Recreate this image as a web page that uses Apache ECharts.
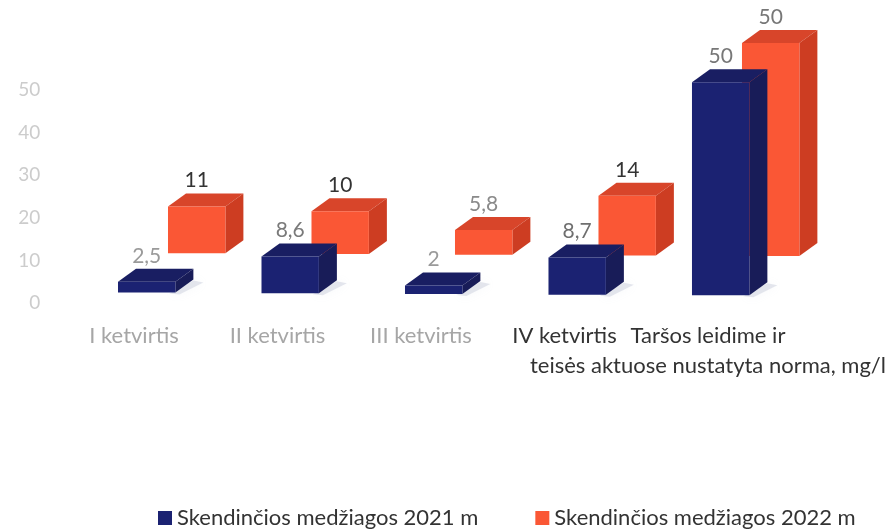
<!DOCTYPE html>
<html>
<head>
<meta charset="utf-8">
<style>
  html, body { margin: 0; padding: 0; background: #fff; }
  #chart { width: 889px; height: 531px; }
</style>
<script src="https://cdn.jsdelivr.net/npm/echarts@6/dist/echarts.min.js"></script>
</head>
<body>
<div id="chart"></div>
<script>
const categories = [
    "I ketvirtis",
    "II ketvirtis",
    "III ketvirtis",
    "IV ketvirtis",
    "Taršos leidime ir\nteisės aktuose nustatyta norma, mg/l"
];
const values2021 = [2.5, 8.6, 2, 8.7, 50];
const values2022 = [11, 10, 5.8, 14, 50];
const yTicks = [0, 10, 20, 30, 40, 50];
const name2021 = "Skendinčios medžiagos 2021 m";
const name2022 = "Skendinčios medžiagos 2022 m";

const fontName = "Lato, 'Open Sans', sans-serif";
const tilt = 0.005; // the scanned picture leans a little to the right

// one box: front face, top, side, floor shadow and the value on top
const box3d = (look) => (params, api) => {
    const value = api.value(1);
    const band = api.size([1, 0])[0];
    const width = band * 0.4;
    const base = api.coord([api.value(0), 0]);
    const top = api.coord([api.value(0), value]);
    const x0 = base[0] + band * look.shift;
    const x1 = x0 + width;
    const lean = (x0 - 118) * tilt;
    const y0 = base[1] + look.lift + lean;
    const y1 = top[1] + look.lift + lean;
    const dx = 18;
    const dy = -13;

    const children = [];
    if (look.shadow) {
        children.push({
            type: "polygon",
            shape: { points: [[x1 - 6, y0 + 1], [x1 + dx, y0 + dy + 1], [x1 + dx + 10, y0 + dy + 3], [x1 + 4, y0 + 2]] },
            style: { fill: look.shadow, shadowBlur: 10, shadowColor: look.shadow }
        });
    }
    children.push(
        {
            type: "polygon",
            shape: { points: [[x0, y1], [x0 + dx, y1 + dy], [x1 + dx, y1 + dy], [x1, y1]] },
            style: { fill: look.top }
        },
        {
            type: "polygon",
            shape: { points: [[x1, y1], [x1 + dx, y1 + dy], [x1 + dx, y0 + dy], [x1, y0]] },
            style: { fill: look.side }
        },
        {
            type: "rect",
            shape: { x: x0, y: y1, width: width, height: y0 - y1 },
            style: { fill: look.front }
        },
        {
            type: "text",
            style: {
                text: String(value).replace(".", ","),
                x: x0 + width / 2,
                y: y1 - 26,
                fill: look.labels[params.dataIndex],
                font: "21px " + fontName,
                align: "center",
                verticalAlign: "middle"
            }
        }
    );
    return { type: "group", children: children };
};

const look2021 = {
    shift: -16 / 143.5,
    lift: -10.5,
    front: "#1b2272",
    top: "#191e62",
    side: "#181c58",
    shadow: "rgba(170,175,200,0.3)",
    labels: ["#9a9a9a", "#7a7a7a", "#9a9a9a", "#6f6f6f", "#777777"]
};
const look2022 = {
    shift: 34 / 143.5,
    lift: -50,
    front: "#fa5735",
    top: "#d8452a",
    side: "#cd3d22",
    labels: ["#333333", "#333333", "#8a8a8a", "#333333", "#777777"]
};

const chart = echarts.init(document.getElementById("chart"));
chart.setOption({
    animation: false,
    backgroundColor: "#fff",
    textStyle: { fontFamily: fontName },
    grid: { left: 62.25, right: 109.25, top: 90, bottom: 228 },
    legend: {
        left: 153,
        top: 502,
        itemWidth: 14,
        itemHeight: 14,
        itemGap: 57,
        icon: "rect",
        textStyle: { fontSize: 22, color: "#333", fontFamily: fontName },
        data: [name2021, name2022]
    },
    xAxis: {
        type: "category",
        data: categories,
        axisLine: { show: false },
        axisTick: { show: false },
        axisLabel: {
            interval: 0,
            margin: 18,
            fontSize: 22,
            lineHeight: 30,
            color: (value, index) => (index < 3 ? "#a6a6a6" : "#333333")
        }
    },
    yAxis: {
        type: "value",
        min: yTicks[0],
        max: yTicks[yTicks.length - 1],
        interval: 10,
        axisLine: { show: false },
        axisTick: { show: false },
        splitLine: { show: false },
        axisLabel: { margin: 22, fontSize: 19, color: "#cccccc" }
    },
    series: [
        {
            name: name2021,
            type: "custom",
            z: 3,
            itemStyle: { color: look2021.front },
            encode: { x: 0, y: 1 },
            renderItem: box3d(look2021),
            data: values2021.map((v, i) => [i, v])
        },
        {
            name: name2022,
            type: "custom",
            z: 2,
            itemStyle: { color: look2022.front },
            encode: { x: 0, y: 1 },
            renderItem: box3d(look2022),
            data: values2022.map((v, i) => [i, v])
        }
    ]
});
</script>
</body>
</html>
